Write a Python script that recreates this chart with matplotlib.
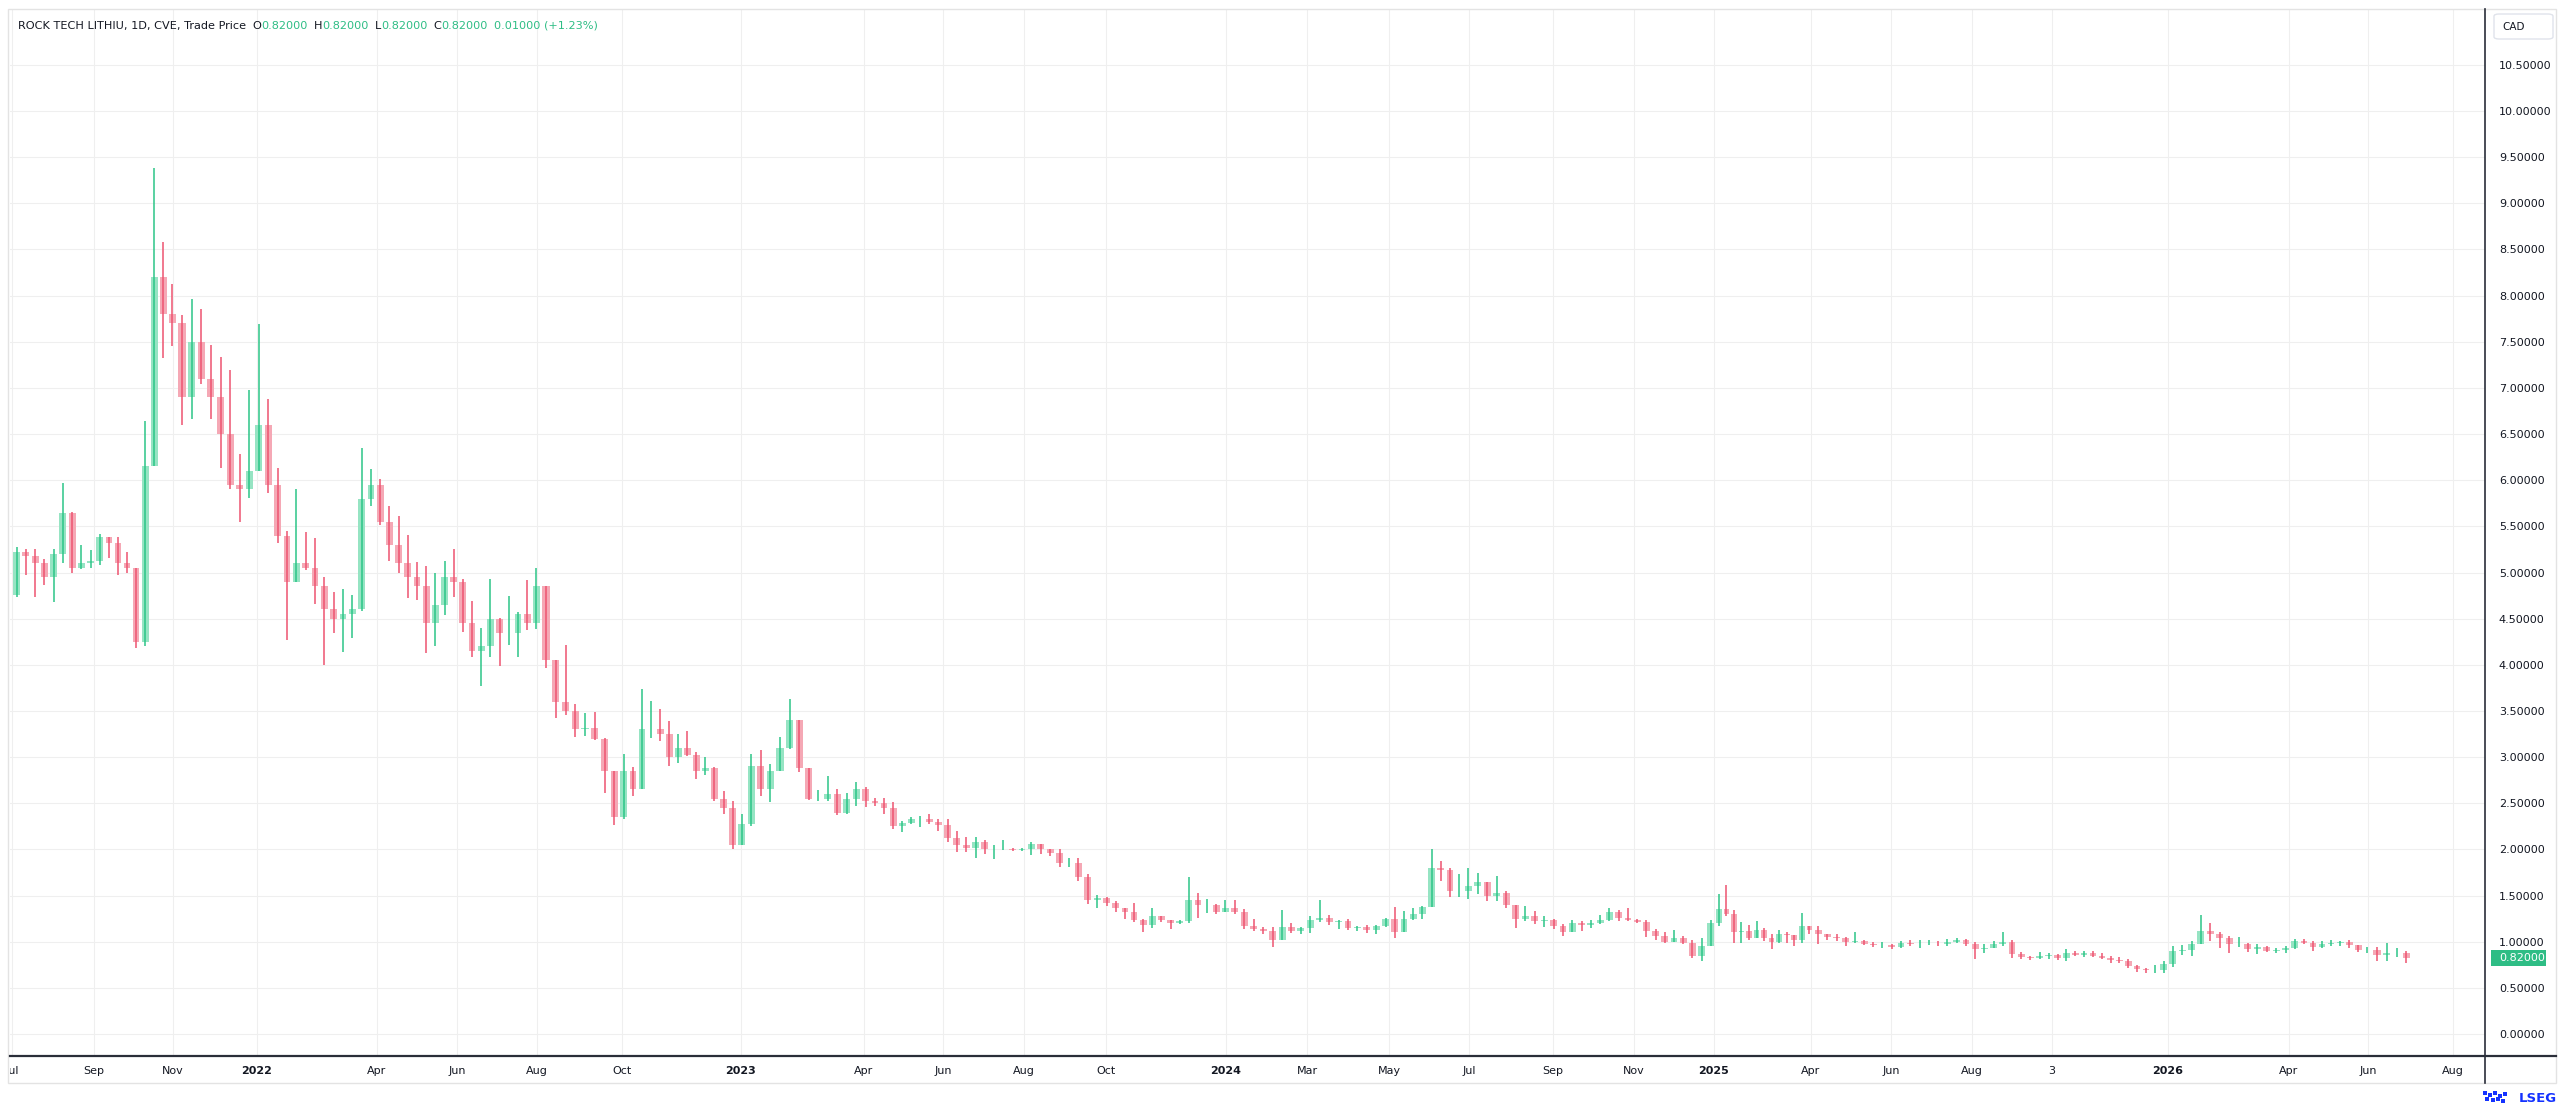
import numpy as np
import pandas as pd
import matplotlib
matplotlib.use("Agg")
import matplotlib.pyplot as plt
import matplotlib.dates as mdates
from matplotlib.patches import Rectangle, FancyBboxPatch
from matplotlib.lines import Line2D
from matplotlib.transforms import Bbox, TransformedBbox

W, H = 2560, 1115

# weekly bars, first week starts 2021-07-01
start_date = "2021-07-01"
first_open = 4.76
close = [
    5.22, 5.18, 5.10, 4.95, 5.20, 5.65, 5.05, 5.10, 5.12, 5.38,
    5.32, 5.10, 5.05, 4.25, 6.15, 8.20, 7.80, 7.70, 6.90, 7.50,
    7.10, 6.90, 6.50, 5.95, 5.90, 6.10, 6.60, 5.95, 5.40, 4.90,
    5.10, 5.05, 4.85, 4.60, 4.50, 4.55, 4.60, 5.80, 5.95, 5.55,
    5.30, 5.10, 4.95, 4.85, 4.45, 4.65, 4.95, 4.90, 4.45, 4.15,
    4.20, 4.50, 4.35, 4.35, 4.55, 4.45, 4.85, 4.05, 3.60, 3.50,
    3.30, 3.32, 3.20, 2.85, 2.35, 2.85, 2.65, 3.30, 3.30, 3.25,
    3.00, 3.10, 3.02, 2.85, 2.88, 2.55, 2.45, 2.05, 2.28, 2.90,
    2.65, 2.85, 3.10, 3.40, 2.88, 2.55, 2.55, 2.60, 2.40, 2.55,
    2.65, 2.52, 2.50, 2.45, 2.25, 2.29, 2.33, 2.33, 2.30, 2.26,
    2.12, 2.05, 2.02, 2.08, 2.00, 2.00, 2.00, 1.99, 2.00, 2.06,
    2.00, 1.96, 1.85, 1.85, 1.70, 1.45, 1.47, 1.42, 1.36, 1.32,
    1.24, 1.18, 1.28, 1.23, 1.20, 1.22, 1.45, 1.40, 1.40, 1.32,
    1.37, 1.32, 1.17, 1.14, 1.12, 1.02, 1.16, 1.12, 1.15, 1.24,
    1.26, 1.21, 1.22, 1.15, 1.16, 1.13, 1.17, 1.25, 1.10, 1.25,
    1.30, 1.38, 1.80, 1.78, 1.55, 1.55, 1.60, 1.65, 1.50, 1.53,
    1.40, 1.25, 1.28, 1.22, 1.24, 1.17, 1.10, 1.20, 1.18, 1.20,
    1.24, 1.32, 1.26, 1.24, 1.21, 1.12, 1.06, 1.00, 1.04, 0.99,
    0.85, 0.95, 1.20, 1.35, 1.30, 1.10, 1.12, 1.04, 1.13, 1.04,
    1.00, 1.08, 1.07, 1.02, 1.17, 1.13, 1.08, 1.05, 1.04, 1.00,
    1.01, 0.97, 0.96, 0.96, 0.94, 0.99, 0.98, 0.98, 0.98, 0.97,
    1.00, 1.02, 0.97, 0.92, 0.93, 0.97, 1.00, 0.87, 0.83, 0.82,
    0.85, 0.86, 0.82, 0.88, 0.86, 0.88, 0.85, 0.82, 0.80, 0.79,
    0.74, 0.70, 0.69, 0.69, 0.76, 0.90, 0.91, 0.98, 1.12, 1.08,
    1.04, 0.98, 0.98, 0.92, 0.94, 0.90, 0.91, 0.93, 1.01, 0.99,
    0.94, 0.98, 0.99, 1.00, 0.96, 0.91, 0.91, 0.86, 0.88, 0.88,
    0.82,
]
high = [
    5.28, 5.26, 5.25, 5.15, 5.25, 5.97, 5.66, 5.30, 5.24, 5.42,
    5.39, 5.39, 5.22, 5.05, 6.64, 9.38, 8.58, 8.13, 7.79, 7.96,
    7.86, 7.47, 7.33, 7.19, 6.28, 6.98, 7.69, 6.88, 6.13, 5.45,
    5.90, 5.44, 5.37, 4.95, 4.79, 4.82, 4.76, 6.35, 6.12, 6.01,
    5.72, 5.61, 5.41, 5.11, 5.07, 5.00, 5.13, 5.25, 4.93, 4.69,
    4.40, 4.93, 4.51, 4.75, 4.57, 4.92, 5.05, 4.85, 4.05, 4.21,
    3.58, 3.48, 3.49, 3.21, 2.85, 3.03, 2.89, 3.74, 3.61, 3.52,
    3.39, 3.25, 3.28, 3.06, 3.00, 2.89, 2.63, 2.52, 2.38, 3.03,
    3.08, 2.93, 3.22, 3.63, 3.40, 2.88, 2.64, 2.80, 2.66, 2.61,
    2.73, 2.68, 2.56, 2.56, 2.51, 2.31, 2.35, 2.36, 2.38, 2.33,
    2.33, 2.20, 2.14, 2.14, 2.10, 2.05, 2.10, 2.02, 2.02, 2.08,
    2.06, 2.00, 2.00, 1.91, 1.91, 1.73, 1.51, 1.48, 1.44, 1.37,
    1.42, 1.25, 1.37, 1.28, 1.23, 1.24, 1.70, 1.53, 1.46, 1.41,
    1.45, 1.45, 1.35, 1.25, 1.16, 1.16, 1.34, 1.20, 1.16, 1.28,
    1.45, 1.29, 1.24, 1.25, 1.17, 1.18, 1.18, 1.26, 1.38, 1.33,
    1.36, 1.39, 2.01, 1.87, 1.80, 1.73, 1.80, 1.75, 1.65, 1.71,
    1.55, 1.40, 1.39, 1.33, 1.28, 1.25, 1.19, 1.23, 1.22, 1.23,
    1.29, 1.36, 1.34, 1.37, 1.25, 1.23, 1.14, 1.10, 1.13, 1.06,
    1.02, 1.04, 1.24, 1.52, 1.61, 1.34, 1.21, 1.18, 1.22, 1.15,
    1.08, 1.13, 1.10, 1.07, 1.31, 1.17, 1.17, 1.08, 1.08, 1.05,
    1.10, 1.02, 1.00, 1.00, 0.98, 1.01, 1.02, 1.02, 1.02, 1.01,
    1.03, 1.04, 1.03, 1.00, 0.97, 1.01, 1.11, 1.02, 0.89, 0.85,
    0.89, 0.88, 0.87, 0.92, 0.90, 0.90, 0.90, 0.88, 0.84, 0.83,
    0.81, 0.75, 0.72, 0.75, 0.79, 0.95, 0.96, 1.01, 1.29, 1.20,
    1.10, 1.06, 1.05, 0.99, 0.97, 0.95, 0.93, 0.95, 1.03, 1.03,
    1.01, 1.01, 1.02, 1.01, 1.02, 0.96, 0.94, 0.94, 0.99, 0.93,
    0.90,
]
low = [
    4.73, 4.97, 4.74, 4.87, 4.68, 5.10, 4.99, 5.04, 5.05, 5.08,
    5.16, 4.97, 4.99, 4.18, 4.20, 6.15, 7.32, 7.45, 6.60, 6.66,
    7.04, 6.66, 6.13, 5.90, 5.55, 5.81, 6.10, 5.86, 5.32, 4.27,
    4.90, 5.03, 4.66, 4.00, 4.35, 4.14, 4.29, 4.58, 5.72, 5.51,
    5.12, 4.99, 4.72, 4.70, 4.13, 4.20, 4.54, 4.73, 4.36, 4.09,
    3.77, 4.08, 3.99, 4.22, 4.09, 4.38, 4.39, 3.97, 3.42, 3.46,
    3.22, 3.23, 3.19, 2.61, 2.27, 2.33, 2.58, 2.65, 3.21, 3.17,
    2.90, 2.94, 3.01, 2.76, 2.81, 2.52, 2.38, 2.00, 2.05, 2.25,
    2.58, 2.51, 2.85, 3.09, 2.84, 2.54, 2.53, 2.53, 2.37, 2.38,
    2.47, 2.46, 2.47, 2.38, 2.22, 2.19, 2.28, 2.24, 2.28, 2.20,
    2.08, 1.97, 1.97, 1.91, 1.95, 1.90, 1.99, 1.98, 1.98, 1.94,
    1.95, 1.93, 1.81, 1.81, 1.66, 1.41, 1.37, 1.39, 1.32, 1.25,
    1.21, 1.10, 1.15, 1.21, 1.14, 1.19, 1.20, 1.26, 1.31, 1.30,
    1.32, 1.30, 1.14, 1.12, 1.08, 0.94, 1.02, 1.09, 1.08, 1.09,
    1.21, 1.18, 1.14, 1.13, 1.12, 1.09, 1.08, 1.16, 1.04, 1.10,
    1.23, 1.25, 1.38, 1.66, 1.48, 1.48, 1.46, 1.52, 1.44, 1.44,
    1.37, 1.15, 1.22, 1.19, 1.16, 1.14, 1.06, 1.10, 1.12, 1.15,
    1.19, 1.22, 1.22, 1.22, 1.20, 1.05, 1.02, 0.99, 1.00, 0.98,
    0.82, 0.79, 0.95, 1.17, 1.28, 0.99, 0.99, 1.02, 1.04, 1.01,
    0.92, 0.99, 0.99, 0.95, 0.99, 1.08, 0.97, 1.02, 1.01, 0.95,
    0.99, 0.96, 0.94, 0.93, 0.92, 0.93, 0.95, 0.93, 0.96, 0.95,
    0.95, 0.99, 0.95, 0.81, 0.88, 0.93, 0.95, 0.82, 0.81, 0.80,
    0.81, 0.81, 0.80, 0.79, 0.84, 0.83, 0.83, 0.81, 0.77, 0.77,
    0.71, 0.67, 0.66, 0.66, 0.66, 0.73, 0.86, 0.85, 0.98, 1.01,
    0.93, 0.88, 0.94, 0.89, 0.87, 0.89, 0.88, 0.88, 0.92, 0.97,
    0.90, 0.93, 0.95, 0.95, 0.93, 0.89, 0.88, 0.79, 0.79, 0.83,
    0.77,
]

# time axis labels
tick_dates = ["2021-07-01", "2021-09-01", "2021-11-01", "2022-01-01", "2022-04-01",
              "2022-06-01", "2022-08-01", "2022-10-01", "2023-01-01", "2023-04-01",
              "2023-06-01", "2023-08-01", "2023-10-01", "2024-01-01", "2024-03-01",
              "2024-05-01", "2024-07-01", "2024-09-01", "2024-11-01", "2025-01-01",
              "2025-04-01", "2025-06-01", "2025-08-01", "2025-10-01", "2026-01-01",
              "2026-04-01", "2026-06-01", "2026-08-01"]
tick_labels = ["Jul", "Sep", "Nov", "2022", "Apr", "Jun", "Aug", "Oct", "2023", "Apr",
               "Jun", "Aug", "Oct", "2024", "Mar", "May", "Jul", "Sep", "Nov", "2025",
               "Apr", "Jun", "Aug", "3", "2026", "Apr", "Jun", "Aug"]
price_ticks = [0.0, 0.5, 1.0, 1.5, 2.0, 2.5, 3.0, 3.5, 4.0, 4.5, 5.0, 5.5,
               6.0, 6.5, 7.0, 7.5, 8.0, 8.5, 9.0, 9.5, 10.0, 10.5]
last_price = 0.82

# the time axis is bar based, so months are not evenly spaced: pixel of each label
tick_px = [12, 94, 173, 257, 377, 457, 537, 622, 741, 864, 943, 1024, 1106, 1226,
           1307, 1389, 1469, 1553, 1634, 1714, 1811, 1891, 1972, 2052, 2168, 2289,
           2368, 2453]

DARK = "#131722"
GRID = "#efefef"
UP, UP_BODY = "#2cc587", "#96e4c3"
DOWN, DOWN_BODY = "#ee5470", "#f5a8b5"

anchor_x = mdates.date2num(pd.to_datetime(tick_dates))
anchor_x = np.concatenate([[anchor_x[0] - 500], anchor_x, [anchor_x[-1] + 500]])
anchor_p = np.concatenate([[tick_px[0] - 500 * 1.32], tick_px, [tick_px[-1] + 500 * 1.39]])


def fwd(x):
    return np.interp(np.asarray(x, dtype=float), anchor_x, anchor_p)


def inv(p):
    return np.interp(np.asarray(p, dtype=float), anchor_p, anchor_x)


fig = plt.figure(figsize=(W / 100, H / 100), dpi=100)
fig.patch.set_facecolor("white")

L, R, T, B = 10, 2485, 9, 1056
ax = fig.add_axes([L / W, 1 - B / H, (R - L) / W, (B - T) / H])
ax.set_xscale("function", functions=(fwd, inv))
ax.set_xlim(float(inv(L)), float(inv(R)))
ax.set_ylim(-0.238, 11.105)

dates = pd.date_range(start_date, periods=len(close), freq="7D")
xc = mdates.date2num(dates) + 3.5
c = np.array(close)
o = np.array([first_open] + close[:-1])
hi = np.array(high)
lo = np.array(low)
up = c >= o
dn = ~up

ax.bar(xc[up], c[up] - o[up], bottom=o[up], width=5.2, color=UP_BODY, lw=0, zorder=3)
ax.bar(xc[dn], c[dn] - o[dn], bottom=o[dn], width=5.2, color=DOWN_BODY, lw=0, zorder=3)
ax.vlines(xc[up], lo[up], hi[up], color=UP, lw=1.1, zorder=4)
ax.vlines(xc[dn], lo[dn], hi[dn], color=DOWN, lw=1.1, zorder=4)

# axes, grid and labels
for s in ax.spines.values():
    s.set_visible(False)
ax.set_yticks(price_ticks)
ax.set_yticklabels([f"{v:.5f}" for v in price_ticks])
ax.yaxis.tick_right()
ax.tick_params(axis="y", length=0, pad=10, labelsize=8, labelcolor=DARK)
ax.set_xticks(mdates.date2num(pd.to_datetime(tick_dates)))
ax.set_xticklabels(tick_labels)
ax.tick_params(axis="x", length=0, pad=7, labelsize=8, labelcolor=DARK)
ax.grid(True, color=GRID, lw=0.8, zorder=0)
ax.set_axisbelow(True)

clip = TransformedBbox(Bbox([[L / W, 0], [1, 1]]), fig.transFigure)
for lab in ax.get_xticklabels():
    if lab.get_text().isdigit() and len(lab.get_text()) == 4:
        lab.set_fontweight("bold")
    lab.set_clip_on(True)
    lab.set_clip_box(clip)

# frame and scale lines
fig.add_artist(Rectangle((8 / W, 1 - 1083 / H), (2556 - 8) / W, (1083 - 9) / H,
                         transform=fig.transFigure, fill=False, ec="#e3e3e3", lw=1))
fig.add_artist(Line2D([L / W, 2556 / W], [1 - B / H, 1 - B / H], transform=fig.transFigure,
                      color="#2a2e39", lw=1.6))
fig.add_artist(Line2D([R / W, R / W], [1 - 9 / H, 1 - 1083 / H], transform=fig.transFigure,
                      color="#2a2e39", lw=1.2))

# currency box
fig.add_artist(FancyBboxPatch((2494 / W, 1 - 39 / H), 59 / W, 25 / H,
                              boxstyle="round,pad=0,rounding_size=0.002",
                              transform=fig.transFigure, fc="white", ec="#e0e3eb", lw=1))
fig.text(2514 / W, 1 - 27 / H, "CAD", ha="center", va="center", fontsize=7.5, color=DARK)

# last price tag
yp = ax.transData.transform((0, last_price))[1] / H
fig.add_artist(Rectangle((2491 / W, yp - 8 / H), 55 / W, 16 / H, transform=fig.transFigure,
                         fc="#2ebd85", ec="none"))
fig.text(2499 / W, yp, f"{last_price:.5f}", ha="left", va="center", fontsize=8, color="white")

# header legend
GREEN_TXT = "#2ebd85"
parts = [("ROCK TECH LITHIU, 1D, CVE, Trade Price", DARK, 0),
         ("O", DARK, 4.5), ("0.82000", GREEN_TXT, 0),
         ("H", DARK, 4.5), ("0.82000", GREEN_TXT, 0),
         ("L", DARK, 4.5), ("0.82000", GREEN_TXT, 0),
         ("C", DARK, 4.5), ("0.82000", GREEN_TXT, 0),
         ("0.01000 (+1.23%)", GREEN_TXT, 4.5)]
prev = fig.text(18 / W, 1 - 26 / H, parts[0][0], ha="left", va="center",
                fontsize=8.1, color=parts[0][1])
for txt, col, gap in parts[1:]:
    prev = ax.annotate(txt, xy=(1, 0.5), xycoords=prev, xytext=(gap, 0),
                       textcoords="offset points", ha="left", va="center",
                       fontsize=8.1, color=col, annotation_clip=False)

# LSEG mark
fig.text(2557 / W, 1 - 1098 / H, "LSEG", ha="right", va="center", fontsize=9.5,
         fontweight="bold", color="#1432ff")
for dx, dy in [(0, 0), (5, 2), (10, 0), (15, 3), (20, 1), (2, 6), (8, 7), (13, 6), (18, 8)]:
    fig.add_artist(Rectangle(((2483 + dx) / W, 1 - (1095 + dy) / H), 4 / W, 4 / H,
                             transform=fig.transFigure, fc="#1432ff", ec="none"))

fig.savefig("out.png", dpi=100)
